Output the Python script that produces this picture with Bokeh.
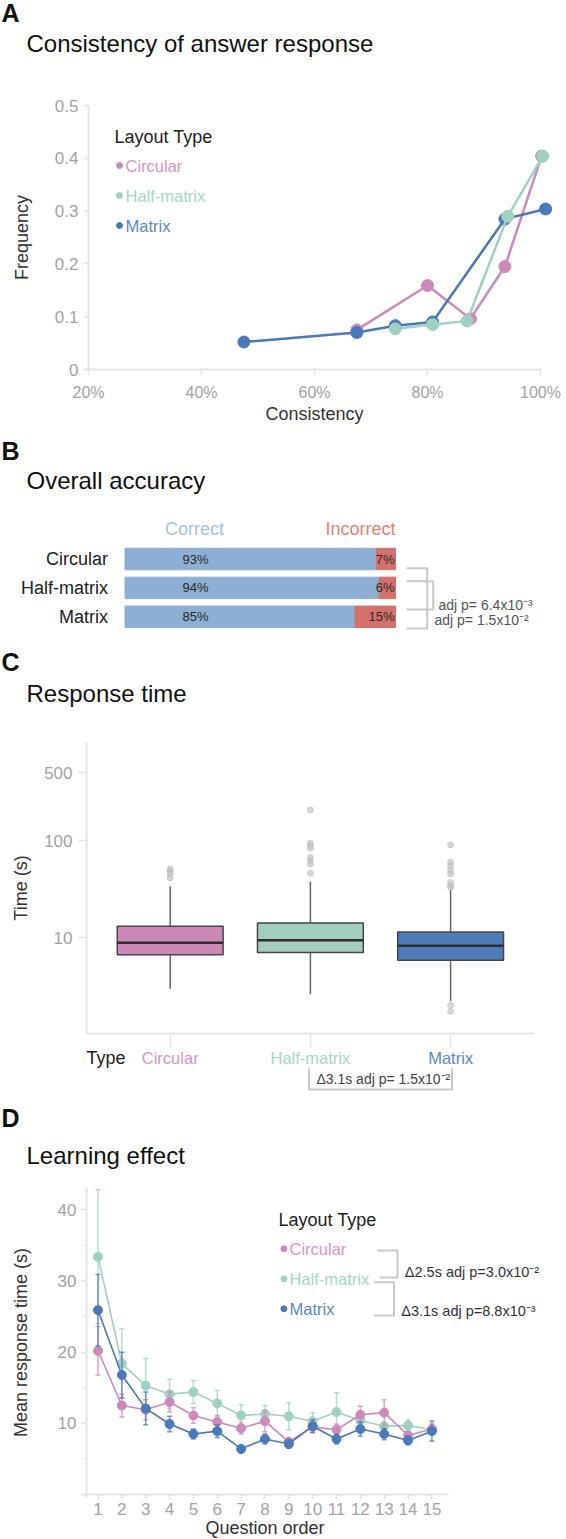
import json
from math import log10
from bokeh.plotting import figure
from bokeh.layouts import column
from bokeh.models import FixedTicker, CustomJSTickFormatter, Range1d
from bokeh.core.properties import value
from bokeh.embed import file_html
from bokeh.resources import INLINE

# ------------------------------------------------------------------ data
types = ["Circular", "Half-matrix", "Matrix"]

# A: consistency of answer response (x in %, y frequency)
cons_circ_x = [67.5, 80.0, 87.6, 93.7, 100.2]
cons_circ_y = [0.075, 0.159, 0.096, 0.195, 0.404]
cons_half_x = [74.3, 80.9, 87.0, 94.2, 100.4]
cons_half_y = [0.077, 0.085, 0.092, 0.290, 0.404]
cons_mat_x = [47.5, 67.5, 74.3, 80.9, 93.7, 100.9]
cons_mat_y = [0.052, 0.070, 0.083, 0.090, 0.285, 0.304]
cons_ticks = [20, 40, 60, 80, 100]
freq_ticks = [0, 0.1, 0.2, 0.3, 0.4, 0.5]

# B: overall accuracy (%)
acc_correct = [93, 94, 85]
acc_incorrect = [7, 6, 15]
acc_tests = ["adj p= 6.4x10\u207b\u00b3", "adj p= 1.5x10\u207b\u00b2"]

# C: response time box plots (s)
rt_q1 = [6.64, 7.0, 5.83]
rt_med = [8.82, 9.38, 8.2]
rt_q3 = [13.08, 14.1, 11.4]
rt_lo = [2.96, 2.6, 2.2]
rt_hi = [33.8, 37.7, 30.9]
rt_out_circ = [41.1, 45.2, 48.2, 50.9]
rt_out_half = [46.0, 57.0, 62.0, 67.0, 83.0, 89.0, 93.8, 206.0]
rt_out_mat = [1.74, 2.0, 32.9, 34.3, 37.0, 45.2, 48.9, 55.0, 59.7, 90.0]
rt_ticks = [10, 100, 500]
rt_test = "\u03943.1s adj p= 1.5x10\u207b\u00b2"

# D: learning effect (mean response time per question order)
q_order = list(range(1, 16))
circ_mean = [20.2, 12.5, 11.9, 13.0, 11.1, 10.2, 9.3, 10.3, 7.4, 9.5, 9.1, 11.2, 11.5, 8.3, 9.2]
circ_err = [3.4, 1.6, 1.4, 1.4, 1.1, 0.9, 0.8, 1.5, 0.5, 0.8, 0.8, 1.2, 1.8, 0.5, 0.7]
half_mean = [33.4, 18.4, 15.3, 14.1, 14.4, 12.8, 11.1, 11.3, 11.0, 10.3, 11.6, 10.4, 9.6, 9.7, 9.1]
half_err = [9.4, 4.9, 3.8, 2.1, 1.6, 1.8, 1.5, 1.2, 1.9, 1.2, 2.7, 0.6, 0.5, 0.8, 0.6]
mat_mean = [25.9, 16.8, 12.1, 9.9, 8.5, 8.9, 6.4, 7.8, 7.1, 9.6, 7.8, 9.2, 8.5, 7.6, 8.9]
mat_err = [5.0, 3.2, 2.3, 1.1, 0.7, 0.9, 0.5, 0.7, 0.6, 0.9, 0.7, 1.0, 0.8, 0.6, 1.4]
mrt_ticks = [10, 20, 30, 40]
mrt_minor = [5, 15, 25, 35]
learn_tests = ["\u03942.5s adj p=3.0x10\u207b\u00b2", "\u03943.1s adj p=8.8x10\u207b\u00b3"]

# ------------------------------------------------------------------ style
W = 566
FONT = "Liberation Sans"
PINK, GREEN, BLUE = "#CD89BA", "#9FD0C1", "#4A78B8"
PINK_T, GREEN_T, BLUE_T = "#D894C4", "#A3D6C8", "#5B87C9"
BOX_FILL = ["#CC88B6", "#A2CDC1", "#4F7AB8"]
AXC = "#E4E4E4"
TICKC = "#A3A3A3"
BRK = "#C9C9C9"


class Map:
    """pixel (col,row from top of the figure) <-> data helper"""

    def __init__(self, H, xa, ya, log=False):
        self.H, self.log = H, log
        v0, c0, v1, c1 = xa
        self.sx = (v1 - v0) / (c1 - c0)
        self.x0 = v0 - c0 * self.sx
        v0, r0, v1, r1 = ya
        if log:
            v0, v1 = log10(v0), log10(v1)
        self.sy = (v1 - v0) / (r0 - r1)
        self.ytop = v0 + r0 * self.sy

    def X(self, col):
        return self.x0 + col * self.sx

    def Y(self, row):
        v = self.ytop - row * self.sy
        return 10 ** v if self.log else v


def make_fig(m, log=False):
    p = figure(width=W, height=m.H, x_range=Range1d(m.X(0), m.X(W)),
               y_range=Range1d(m.Y(m.H), m.Y(0)),
               y_axis_type="log" if log else "linear",
               output_backend="svg", toolbar_location=None, min_border=0,
               outline_line_color=None, background_fill_color="white",
               border_fill_color="white")
    p.grid.visible = False
    return p


def style_axis(ax, fixed, bounds, ticks, code, label=None, tick_out=6, standoff=6,
               lab_standoff=5, tick_font="17px", minor=None):
    ax.fixed_location = fixed
    ax.bounds = bounds
    ax.ticker = FixedTicker(ticks=ticks, minor_ticks=minor or [])
    ax.formatter = CustomJSTickFormatter(code=code)
    ax.axis_line_color = AXC
    ax.axis_line_width = 2
    ax.major_tick_line_color = AXC
    ax.major_tick_line_width = 1.5
    ax.major_tick_in = 0
    ax.major_tick_out = tick_out
    if minor:
        ax.minor_tick_line_color = AXC
        ax.minor_tick_line_width = 1.2
        ax.minor_tick_in = 0
        ax.minor_tick_out = 4
    else:
        ax.minor_tick_line_color = None
    ax.major_label_text_font = FONT
    ax.major_label_text_font_size = tick_font
    ax.major_label_text_color = TICKC
    ax.major_label_standoff = standoff
    if label:
        ax.axis_label = label
        ax.axis_label_text_font = FONT
        ax.axis_label_text_font_size = "18px"
        ax.axis_label_text_font_style = "normal"
        ax.axis_label_text_color = "#333333"
        ax.axis_label_standoff = lab_standoff


def txt(p, x, y, t, size, color="#222222", align="left", bold=False, **kw):
    p.text(x=x, y=y, text=t, text_font=value(FONT), text_font_size=size,
           text_color=color, text_align=align, text_baseline="middle",
           text_font_style="bold" if bold else "normal", **kw)


def headline(p, m, letter, title, r_letter, r_title):
    txt(p, [m.X(1)], [m.Y(r_letter)], [letter], "25px", "#111111", bold=True)
    txt(p, [m.X(26)], [m.Y(r_title)], [title], "24px", "#111111")


# ------------------------------------------------------------------ A
mA = Map(430, (20, 88, 100, 540), (0, 369, 0.5, 105))
pA = make_fig(mA)
style_axis(pA.xaxis[0], 0, (20, 100), cons_ticks, "return tick.toFixed(0) + '%';",
           "Consistency", tick_out=6, standoff=8, lab_standoff=0, tick_font="16px")
style_axis(pA.yaxis[0], 20, (0, 0.5), freq_ticks,
           "return tick == 0 ? '0' : tick.toFixed(1);", "Frequency",
           tick_out=5, standoff=5, lab_standoff=20)
for xs, ys, c in [(cons_circ_x, cons_circ_y, PINK), (cons_mat_x, cons_mat_y, BLUE),
                  (cons_half_x, cons_half_y, GREEN)]:
    pA.line(xs, ys, line_color=c, line_width=2.5)
    pA.scatter(xs, ys, size=12, color=c)
headline(pA, mA, "A", "Consistency of answer response", 12, 43)
txt(pA, [mA.X(114)], [mA.Y(136)], ["Layout Type"], "18px")
leg_rows = [165, 195, 225]
pA.scatter([mA.X(119)] * 3, [mA.Y(r) for r in leg_rows], size=6, color=[PINK, GREEN, BLUE])
txt(pA, [mA.X(125)] * 3, [mA.Y(r) for r in leg_rows], types, "16.5px",
    color=[PINK_T, GREEN_T, BLUE_T])

# ------------------------------------------------------------------ B
mB = Map(215, (0, 124.5, 100, 395), (0, 128.5, -2, 186.3))
pB = make_fig(mB)
pB.xaxis.visible = False
yB = [-i for i in range(len(types))]
style_axis(pB.yaxis[0], 0, "auto", yB,
           "const n = %s; return n[Math.round(-tick)];" % json.dumps(types),
           tick_out=0, standoff=17, tick_font="18px")
pB.yaxis[0].axis_line_color = None
pB.yaxis[0].major_tick_line_color = None
pB.yaxis[0].major_label_text_color = "#222222"
pB.hbar(y=yB, left=0, right=acc_correct, height=0.744, color="#8CAFD3")
pB.hbar(y=yB, left=acc_correct, right=100, height=0.744, color="#D4716D")
txt(pB, [mB.X(195)] * 3, yB, ["%d%%" % v for v in acc_correct], "13px", "#2A2A2A", "center")
txt(pB, [100] * 3, yB, ["%d%%" % v for v in acc_incorrect], "13px", "#2A2A2A", "right",
    x_offset=-1)
txt(pB, [mB.X(194)], [mB.Y(98)], ["Correct"], "18px", "#A3C2E3", "center")
txt(pB, [mB.X(395)], [mB.Y(98)], ["Incorrect"], "18px", "#E47F78", "right")
headline(pB, mB, "B", "Overall accuracy", 20, 50)
brk_b = [[(406, 137.7), (426.7, 137.7), (426.7, 198), (406, 198)],
         [(406, 150.7), (432.7, 150.7), (432.7, 179), (406, 179)]]
pB.multi_line([[mB.X(c) for c, r in b] for b in brk_b],
              [[mB.Y(r) for c, r in b] for b in brk_b], line_color=BRK, line_width=2)
txt(pB, [mB.X(438), mB.X(434)], [mB.Y(174), mB.Y(189)], acc_tests, "14px", "#555555")

# ------------------------------------------------------------------ C
mC = Map(460, (0, 169.7, 2, 450.1), (10, 292, 100, 195), log=True)
pC = make_fig(mC, log=True)
idx = list(range(len(types)))
style_axis(pC.xaxis[0], mC.Y(388), (mC.X(86), mC.X(534)), idx, "return '';",
           tick_out=14, standoff=0)
style_axis(pC.yaxis[0], mC.X(86), (mC.Y(388), mC.Y(97)), rt_ticks,
           "return tick.toFixed(0);", "Time (s)", tick_out=8, standoff=6, lab_standoff=10)
bw = 0.755
pC.segment(idx, rt_q3, idx, rt_hi, line_color="#666666", line_width=1.5)
pC.segment(idx, rt_lo, idx, rt_q1, line_color="#666666", line_width=1.5)
outs = [rt_out_circ, rt_out_half, rt_out_mat]
pC.scatter([i for i, o in zip(idx, outs) for _ in o], [v for o in outs for v in o],
           size=6, color="#BDBDBD", alpha=0.6)
pC.vbar(x=idx, bottom=rt_q1, top=rt_q3, width=bw, fill_color=BOX_FILL,
        line_color="#474747", line_width=1.5)
pC.segment([i - bw / 2 for i in idx], rt_med, [i + bw / 2 for i in idx], rt_med,
           line_color="#2E2E2E", line_width=2.5)
txt(pC, [mC.X(86)], [mC.Y(412)], ["Type"], "18px")
txt(pC, idx, [mC.Y(412)] * 3, types, "16.5px", [PINK_T, GREEN_T, BLUE_T], "center")
brk_c = [(1 - 0.01, 423), (1 - 0.01, 444), (2 + 0.01, 444), (2 + 0.01, 423)]
pC.line([x for x, r in brk_c], [mC.Y(r) for x, r in brk_c], line_color=BRK, line_width=2)
txt(pC, [1.52], [mC.Y(433)], [rt_test], "14px", "#444444", "center")
headline(pC, mC, "C", "Response time", 16, 48)

# ------------------------------------------------------------------ D
mD = Map(434, (1, 97.5, 15, 431.4), (0, 389, 40, 104.3))
pD = make_fig(mD)
style_axis(pD.xaxis[0], 0, (mD.X(81), mD.X(448)), q_order, "return tick.toFixed(0);",
           "Question order", tick_out=5, standoff=3, lab_standoff=0)
style_axis(pD.yaxis[0], mD.X(86), (mD.Y(392), mD.Y(82)), mrt_ticks,
           "return tick.toFixed(0);", "Mean response time (s)", tick_out=6, standoff=4,
           lab_standoff=24, minor=mrt_minor)
for mean, err, c in [(half_mean, half_err, GREEN), (circ_mean, circ_err, PINK),
                     (mat_mean, mat_err, BLUE)]:
    lo = [m - e for m, e in zip(mean, err)]
    hi = [m + e for m, e in zip(mean, err)]
    pD.segment(q_order, lo, q_order, hi, line_color=c, line_width=1.5, line_alpha=0.75)
    pD.scatter(q_order + q_order, lo + hi, marker="dash", size=5, line_color=c,
               line_width=1.5, line_alpha=0.75)
    pD.line(q_order, mean, line_color=c, line_width=1.6)
    pD.scatter(q_order, mean, size=9, color=c)
headline(pD, mD, "D", "Learning effect", 12, 50)
txt(pD, [mD.X(278)], [mD.Y(114.3)], ["Layout Type"], "18px")
leg_rows_d = [143.3, 173.3, 203.3]
pD.scatter([mD.X(283.4)] * 3, [mD.Y(r) for r in leg_rows_d], size=6, color=[PINK, GREEN, BLUE])
txt(pD, [mD.X(289)] * 3, [mD.Y(r) for r in leg_rows_d], types, "16.5px",
    color=[PINK_T, GREEN_T, BLUE_T])
brk_d = [[(377, 145), (397, 145), (397, 172), (379, 172)],
         [(373.6, 176.7), (393.5, 176.7), (393.5, 210), (373.6, 210)]]
pD.multi_line([[mD.X(c) for c, r in b] for b in brk_d],
              [[mD.Y(r) for c, r in b] for b in brk_d], line_color=BRK, line_width=2)
txt(pD, [mD.X(404.3), mD.X(400.7)], [mD.Y(166.7), mD.Y(205)], learn_tests, "14.5px", "#333333")

layout = column(pA, pB, pC, pD, spacing=0)
open("out.html", "w").write(file_html(layout, INLINE))
